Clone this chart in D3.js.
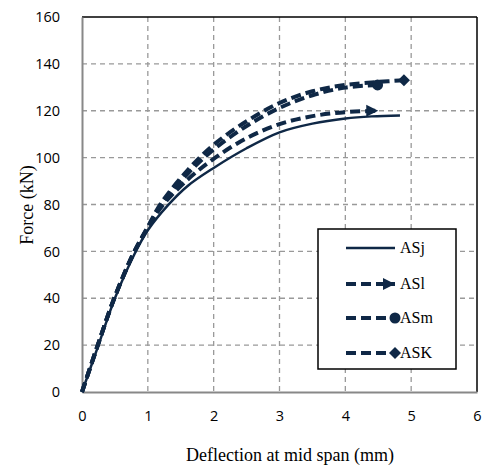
<!DOCTYPE html>
<html><head><meta charset="utf-8">
<script src="https://cdn.jsdelivr.net/npm/d3@7"></script>
<style>body{margin:0;background:#fff}svg{display:block}</style>
</head><body>
<svg id="c" width="484" height="469"></svg>
<script>
const seriesNames = ["ASj", "ASl", "ASm", "ASK"];
const ASj = [[0,0],[0.25,20],[0.5,40],[0.8,59],[1,69],[1.3,79.5],[1.6,87.8],[2,95.6],[2.5,104],[3,110.8],[3.5,114.5],[4,116.7],[4.4,117.6],[4.83,118]];
const ASl = [[0,0],[0.24,20],[0.49,40],[0.78,59],[1,70],[1.22,79.5],[1.6,90.5],[2,99.5],[2.5,108.3],[3,114.3],[3.5,117.7],[4,119.4],[4.5,120]];
const ASm = [[0,0],[0.24,20],[0.49,40],[0.78,59],[1,70.2],[1.2,79.8],[1.6,93],[2,103.5],[2.5,113.5],[3,121.2],[3.5,126.6],[4,129.9],[4.49,131]];
const ASK = [[0,0],[0.24,20],[0.49,40],[0.78,59],[1,70.5],[1.2,80.5],[1.6,94.5],[2,105.5],[2.5,115.5],[3,123.3],[3.5,128.3],[4,131],[4.5,132.3],[4.89,133]];
const xTicks = [0,1,2,3,4,5,6];
const yTicks = [0,20,40,60,80,100,120,140,160];

const col = "#0f2846";
const svg = d3.select("#c");
const L = 82, R = 477, T = 17, B = 392;
const x = d3.scaleLinear().domain([0,6]).range([L,R]);
const y = d3.scaleLinear().domain([0,160]).range([B,T]);

// grid
svg.append("g").selectAll("line").data(xTicks.filter(d=>d>0&&d<6)).join("line")
  .attr("x1",d=>x(d)).attr("x2",d=>x(d)).attr("y1",T).attr("y2",B)
  .attr("stroke","#999").attr("stroke-width",1.3).attr("stroke-dasharray","5,4");
svg.append("g").selectAll("line").data(yTicks.filter(d=>d>0&&d<160)).join("line")
  .attr("x1",L).attr("x2",R).attr("y1",d=>y(d)).attr("y2",d=>y(d))
  .attr("stroke","#999").attr("stroke-width",1.3).attr("stroke-dasharray","5,4");

// border top/right black
svg.append("line").attr("x1",L).attr("x2",R).attr("y1",T).attr("y2",T).attr("stroke","#000").attr("stroke-width",1.5);
svg.append("line").attr("x1",R).attr("x2",R).attr("y1",T).attr("y2",B).attr("stroke","#000").attr("stroke-width",1.5);

// axes
const xa = svg.append("g").attr("transform",`translate(0,${B})`)
  .call(d3.axisBottom(x).tickValues(xTicks).tickFormat(d3.format("d")).tickSize(0).tickPadding(24));
const ya = svg.append("g").attr("transform",`translate(${L},0)`)
  .call(d3.axisLeft(y).tickValues(yTicks).tickFormat(d3.format("d")).tickSize(0).tickPadding(22));
[xa,ya].forEach(a=>{
  a.select(".domain").attr("stroke","#888").attr("stroke-width",2);
  a.selectAll("text").attr("font-family","'Open Sans', 'Liberation Sans', sans-serif").attr("font-size",14.5).attr("fill","#000");
});
xa.selectAll("text").attr("dy","0.35em");

// titles
svg.append("text").attr("x",290).attr("y",461).attr("text-anchor","middle")
  .attr("font-family","'Liberation Serif', 'Times New Roman', serif").attr("font-size",18).text("Deflection at mid span (mm)");
svg.append("text").attr("transform",`translate(33,${205}) rotate(-90)`).attr("text-anchor","middle")
  .attr("font-family","'Liberation Serif', 'Times New Roman', serif").attr("font-size",18).text("Force (kN)");

const line = d3.line().x(d=>x(d[0])).y(d=>y(d[1])).curve(d3.curveCatmullRom.alpha(0.5));
const data = [ASj, ASl, ASm, ASK];
const styles = [
  {w:2.5, dash:null},
  {w:4, dash:"10,5"},
  {w:4, dash:"10,5"},
  {w:4, dash:"10,5"}
];
const plot = svg.append("g");
data.forEach((d,i)=>{
  plot.append("path").datum(d).attr("d",line).attr("fill","none").attr("stroke",col)
    .attr("stroke-width",styles[i].w).attr("stroke-dasharray",styles[i].dash);
});

function marker(g, kind, cx, cy){
  if(kind==="arrow"){
    g.append("path").attr("d",`M${cx-12},${cy-6}L${cx},${cy}L${cx-12},${cy+6}Z`).attr("fill",col);
  } else if(kind==="circle"){
    g.append("circle").attr("cx",cx).attr("cy",cy).attr("r",5.5).attr("fill",col);
  } else if(kind==="diamond"){
    g.append("path").attr("d",`M${cx},${cy-6}L${cx+6},${cy}L${cx},${cy+6}L${cx-6},${cy}Z`).attr("fill",col);
  }
}
const kinds = [null,"arrow","circle","diamond"];
data.forEach((d,i)=>{
  if(!kinds[i]) return;
  const p = d[d.length-1];
  marker(plot, kinds[i], x(p[0]), y(p[1]));
});

// legend
const lg = svg.append("g");
lg.append("rect").attr("x",318).attr("y",229).attr("width",138).attr("height",140)
  .attr("fill","#fff").attr("stroke","#000").attr("stroke-width",1.5);
const ly = [248,284,318,353];
seriesNames.forEach((n,i)=>{
  lg.append("line").attr("x1",346).attr("x2",395).attr("y1",ly[i]).attr("y2",ly[i])
    .attr("stroke",col).attr("stroke-width",styles[i].w).attr("stroke-dasharray",styles[i].dash?"10,5":null);
  if(kinds[i]) marker(lg, kinds[i], 395, ly[i]);
  lg.append("text").attr("x",400).attr("y",ly[i]+5)
    .attr("font-family","'Liberation Serif', 'Times New Roman', serif").attr("font-size",16).text(n);
});
</script>
</body></html>
